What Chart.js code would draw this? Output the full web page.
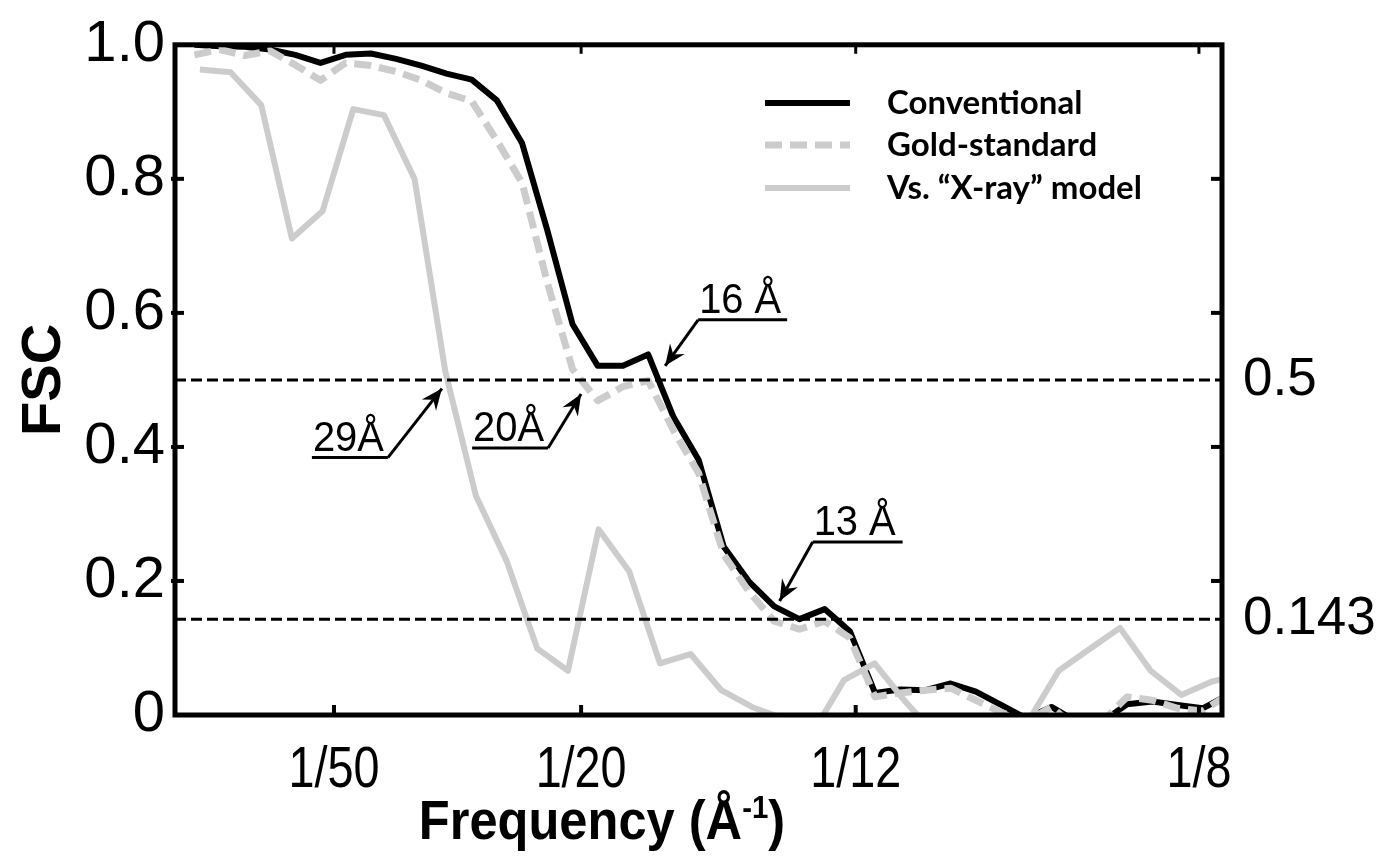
<!DOCTYPE html>
<html>
<head>
<meta charset="utf-8">
<title>FSC</title>
<script src="https://cdn.jsdelivr.net/npm/chart.js@4.4.1/dist/chart.umd.min.js"></script>
<style>
  html, body { margin: 0; padding: 0; background: #fff; }
</style>
</head>
<body>
<canvas id="graficoFsc" width="1379" height="866"></canvas>
<script>
// Datos: frecuencias de cada capa (1/A) y valores FSC
const shellFreq = [0.00306, 0.00612, 0.00918, 0.01224, 0.0153, 0.01836, 0.02142, 0.02448, 0.02754, 0.0306,
    0.03366, 0.03672, 0.03978, 0.04284, 0.0459, 0.04896, 0.05202, 0.05508, 0.05814, 0.0612,
    0.06426, 0.06732, 0.07038, 0.07344, 0.0765, 0.07956, 0.08262, 0.08568, 0.08874, 0.0918,
    0.09486, 0.09792, 0.10098, 0.10404, 0.1071, 0.11016, 0.11322, 0.11628, 0.11934, 0.1224,
    0.12546, 0.12852];
const fscConventional = [1.0, 0.998, 0.997, 0.993, 0.985, 0.973, 0.985, 0.987, 0.979, 0.969,
    0.957, 0.948, 0.917, 0.853, 0.723, 0.583, 0.521, 0.521, 0.538, 0.445,
    0.381, 0.251, 0.199, 0.162, 0.143, 0.158, 0.125, 0.033, 0.038, 0.037,
    0.047, 0.035, 0.015, -0.005, 0.012, -0.01, -0.01, 0.016, 0.02, 0.015,
    0.01, 0.03];
const fscGoldStandard = [0.985, 0.993, 0.984, 0.991, 0.97, 0.947, 0.973, 0.969, 0.96, 0.947,
    0.928, 0.916, 0.857, 0.794, 0.645, 0.516, 0.469, 0.49, 0.499, 0.425,
    0.361, 0.239, 0.184, 0.14, 0.128, 0.14, 0.115, 0.027, 0.033, 0.037,
    0.04, 0.022, 0.004, -0.01, 0.012, -0.02, -0.01, 0.027, 0.022, 0.01,
    0.006, 0.03];
const xrayFreq = [0.00372, 0.00745, 0.01117, 0.01489, 0.01862, 0.02234, 0.02606, 0.02978, 0.03351, 0.03723,
    0.04095, 0.04468, 0.0484, 0.05212, 0.05585, 0.05957, 0.06329, 0.06701, 0.07074, 0.07446,
    0.07818, 0.08191, 0.08563, 0.08935, 0.09308, 0.0968, 0.10052, 0.10424, 0.10797, 0.11169,
    0.11541, 0.11914, 0.12286, 0.12658, 0.1303];
const fscXray = [0.963, 0.959, 0.91, 0.711, 0.752, 0.904, 0.895, 0.80, 0.513, 0.327,
    0.23, 0.099, 0.066, 0.277, 0.214, 0.077, 0.091, 0.037, 0.012, -0.005,
    -0.025, 0.052, 0.077, 0.02, -0.03, -0.03, -0.02, -0.01, 0.066, 0.098,
    0.13, 0.066, 0.03, 0.05, 0.06];

const seriesNames = ['Conventional', 'Gold-standard', 'Vs. \u201cX-ray\u201d model'];

// Ejes
const xRange = [0.0007, 0.1278];
const xTickValues = [1 / 50, 1 / 20, 1 / 12, 1 / 8];
const xTickLabels = ['1/50', '1/20', '1/12', '1/8'];
const yTickValues = [0, 0.2, 0.4, 0.6, 0.8, 1.0];
const yTickLabels = ['0', '0.2', '0.4', '0.6', '0.8', '1.0'];

// Umbrales y resoluciones marcadas con flechas
const thresholds = [0.5, 0.143];
const thresholdLabels = ['0.5', '0.143'];
const resolutionLabels = ['16 \u00c5', '13 \u00c5', '29\u00c5', '20\u00c5'];
const resolutionFreq = [0.0602, 0.0741, 0.0331, 0.0500];
const resolutionFsc = [0.521, 0.170, 0.487, 0.479];

const SANS = '"Liberation Sans", Arial, sans-serif';

// posicion de cada etiqueta respecto a la punta de su flecha (px)
const calloutLayout = [
    { dx: 33, dy: -46, len: 89 },
    { dx: 33, dy: -59, len: 90 },
    { dx: -54, dy: 69, len: -76 },
    { dx: -33, dy: 54, len: -76 }
];

const toPoints = (xs, ys) => xs.map((v, i) => ({ x: v, y: ys[i] }));

function segment(ctx, x1, y1, x2, y2) {
    ctx.beginPath();
    ctx.moveTo(x1, y1);
    ctx.lineTo(x2, y2);
    ctx.stroke();
}

function arrowHead(ctx, fromX, fromY, tipX, tipY) {
    const ang = Math.atan2(tipY - fromY, tipX - fromX);
    const len = 21, half = 9, notch = 14;
    ctx.save();
    ctx.translate(tipX, tipY);
    ctx.rotate(ang);
    ctx.beginPath();
    ctx.moveTo(0, 0);
    ctx.lineTo(-len, -half);
    ctx.lineTo(-notch, 0);
    ctx.lineTo(-len, half);
    ctx.closePath();
    ctx.fill();
    ctx.restore();
}

// texto estrechado en horizontal (la fuente original es condensada)
function narrowText(ctx, txt, x, y, sx) {
    ctx.save();
    ctx.translate(x, y);
    ctx.scale(sx, 1);
    ctx.fillText(txt, 0, 0);
    ctx.restore();
}

const decoraciones = {
    id: 'decoraciones',
    afterDraw(chart) {
        const { ctx, chartArea: a } = chart;
        const xs = chart.scales.x, ys = chart.scales.y;
        ctx.save();
        ctx.strokeStyle = '#000';
        ctx.fillStyle = '#000';

        // marco del grafico
        ctx.lineWidth = 5;
        ctx.strokeRect(a.left, a.top, a.right - a.left, a.bottom - a.top);

        // marcas de los ejes hacia dentro
        xTickValues.forEach(v => {
            const px = xs.getPixelForValue(v);
            ctx.lineWidth = 4;
            segment(ctx, px, a.bottom, px, a.bottom - 10);
            ctx.lineWidth = 3;
            segment(ctx, px, a.top, px, a.top + 9);
        });
        ctx.lineWidth = 4;
        yTickValues.slice(1, -1).forEach(v => {
            const py = ys.getPixelForValue(v);
            segment(ctx, a.left - 4, py, a.left + 9, py);
            segment(ctx, a.right, py, a.right - 11, py);
        });

        // etiquetas del eje x (condensadas)
        ctx.font = '57px ' + SANS;
        ctx.textAlign = 'center';
        ctx.textBaseline = 'middle';
        xTickValues.forEach((v, i) => {
            narrowText(ctx, xTickLabels[i], xs.getPixelForValue(v), a.bottom + 56, 0.82);
        });

        // etiquetas de los umbrales a la derecha
        ctx.font = '53px ' + SANS;
        ctx.textAlign = 'left';
        thresholds.forEach((t, i) => {
            ctx.fillText(thresholdLabels[i], a.right + 21, ys.getPixelForValue(t));
        });

        // titulo del eje x con superindice
        const main = 'Frequency (\u00c5', sup = '-1', end = ')';
        const sx = 0.92;
        ctx.textBaseline = 'alphabetic';
        ctx.font = 'bold 55px ' + SANS;
        const w1 = ctx.measureText(main).width * sx, w3 = ctx.measureText(end).width * sx;
        ctx.font = 'bold 32px ' + SANS;
        const w2 = ctx.measureText(sup).width * sx;
        const start = a.left + 427 - (w1 + w2 + w3) / 2;
        const base = 839;
        ctx.font = 'bold 55px ' + SANS;
        narrowText(ctx, main, start, base, sx);
        narrowText(ctx, end, start + w1 + w2, base, sx);
        ctx.font = 'bold 32px ' + SANS;
        narrowText(ctx, sup, start + w1, base - 21, sx);

        // flechas de resolucion
        ctx.lineWidth = 3;
        ctx.font = '42px ' + SANS;
        resolutionLabels.forEach((txt, i) => {
            const tipX = xs.getPixelForValue(resolutionFreq[i]);
            const tipY = ys.getPixelForValue(resolutionFsc[i]);
            const c = calloutLayout[i];
            const ex = tipX + c.dx, ey = tipY + c.dy;
            segment(ctx, ex, ey, tipX, tipY);
            segment(ctx, ex, ey, ex + c.len, ey);
            arrowHead(ctx, ex, ey, tipX, tipY);
            narrowText(ctx, txt, Math.min(ex, ex + c.len) + 1, ey - 7, 0.95);
        });

        // leyenda
        const rows = [103, 145, 188];
        ctx.textBaseline = 'middle';
        ctx.font = 'bold 33px Lato, "Open Sans", sans-serif';
        seriesNames.forEach((name, i) => {
            const ds = chart.data.datasets.find(d => d.label === name);
            ctx.save();
            ctx.strokeStyle = ds.borderColor;
            ctx.lineWidth = ds.borderWidth;
            ctx.setLineDash(ds.borderDash || []);
            segment(ctx, 765, rows[i], 850, rows[i]);
            ctx.restore();
            ctx.fillText(name, 887, rows[i]);
        });
        ctx.restore();
    }
};

const ctx = document.getElementById('graficoFsc').getContext('2d');
new Chart(ctx, {
    type: 'line',
    data: {
        datasets: [
            {
                label: 'umbral 0.5',
                data: toPoints(xRange, [thresholds[0], thresholds[0]]),
                borderColor: '#000', borderWidth: 3, borderDash: [11, 5], order: 0
            },
            {
                label: 'umbral 0.143',
                data: toPoints(xRange, [thresholds[1], thresholds[1]]),
                borderColor: '#000', borderWidth: 3, borderDash: [11, 5], order: 0
            },
            {
                label: seriesNames[2],
                data: toPoints(xrayFreq, fscXray),
                borderColor: '#cccccc', borderWidth: 6, order: 1
            },
            {
                label: seriesNames[1],
                data: toPoints(shellFreq, fscGoldStandard),
                borderColor: '#cccccc', borderWidth: 7, borderDash: [17, 8], order: 2
            },
            {
                label: seriesNames[0],
                data: toPoints(shellFreq, fscConventional),
                borderColor: '#000000', borderWidth: 6, order: 3
            }
        ]
    },
    options: {
        responsive: false,
        animation: false,
        layout: { padding: { top: 37, right: 157, left: 0, bottom: 0 } },
        elements: {
            point: { radius: 0 },
            line: { tension: 0, borderJoinStyle: 'round', fill: false }
        },
        datasets: { line: { clip: 0 } },
        plugins: { legend: { display: false }, tooltip: { enabled: false } },
        scales: {
            x: {
                type: 'linear',
                min: xRange[0],
                max: xRange[1],
                afterBuildTicks: s => { s.ticks = xTickValues.map(v => ({ value: v })); },
                afterFit: s => { s.height = 151; },
                grid: { display: false, drawTicks: false },
                border: { display: false },
                ticks: { display: false }
            },
            y: {
                min: 0,
                max: 1,
                afterBuildTicks: s => { s.ticks = yTickValues.map(v => ({ value: v })); },
                afterFit: s => { s.width = 175; },
                grid: { display: false, drawTicks: false },
                border: { display: false },
                ticks: {
                    padding: 10, color: '#000',
                    font: { family: SANS, size: 58 },
                    callback: (v, i) => yTickLabels[i]
                },
                title: {
                    display: true, text: 'FSC', color: '#000',
                    font: { family: SANS, size: 56, weight: 'bold' },
                    padding: { top: 11, bottom: 0 }
                }
            }
        }
    },
    plugins: [decoraciones]
});
</script>
</body>
</html>
